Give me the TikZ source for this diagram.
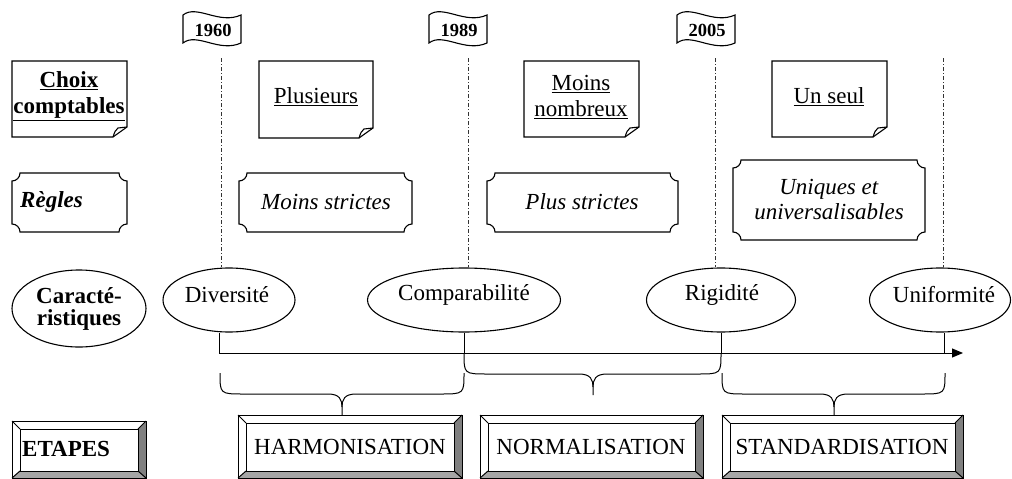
\documentclass[tikz,border=0pt]{standalone}
\usepackage{fontspec}
\setmainfont{Liberation Serif}
\usetikzlibrary{shapes.geometric,arrows.meta}

\tikzset{
  shp/.style={line width=1.1pt},
  thinline/.style={line width=1pt},
  dashdotline/.style={line width=0.8pt, black!80, dash pattern=on 4pt off 2pt on 1pt off 2pt},
  txt/.style={inner sep=0pt, align=center, font=\fontsize{23}{26}\selectfont},
  yeartxt/.style={inner sep=0pt, font=\fontsize{18.5}{20}\selectfont\bfseries},
  ell/.style={ellipse, draw, shp, inner sep=0pt},
}

% folded-corner note box: x1 y1 x2 y2
\newcommand\noteshape[4]{%
  \draw[shp] (#1,#2) -- (#3,#2) -- (#3,{#4-10}) -- ({#3-14},#4) -- (#1,#4) -- cycle;
  \draw[shp] ({#3-14},#4) .. controls ({#3-12},{#4-6}) .. ({#3-9},{#4-9}) -- (#3,{#4-10});
}
% plaque with concave corners: x1 y1 x2 y2
\newcommand\plaqueshape[4]{%
  \draw[shp] ({#1+8},#2) -- ({#3-8},#2)
    .. controls ({#3-8},{#2+4.4}) and ({#3-4.4},{#2+8}) .. (#3,{#2+8})
    -- (#3,{#4-8})
    .. controls ({#3-4.4},{#4-8}) and ({#3-8},{#4-4.4}) .. ({#3-8},#4)
    -- ({#1+8},#4)
    .. controls ({#1+8},{#4-4.4}) and ({#1+4.4},{#4-8}) .. (#1,{#4-8})
    -- (#1,{#2+8})
    .. controls ({#1+4.4},{#2+8}) and ({#1+8},{#2+4.4}) .. ({#1+8},#2) -- cycle;
}
% bevelled frame: x1 y1 x2 y2
\newcommand\bevelshape[4]{%
  \fill[black!50] (#3,#2) -- (#3,#4) -- ({#3-8},{#4-7}) -- ({#3-8},{#2+8}) -- cycle;
  \fill[black!35] (#1,#4) -- (#3,#4) -- ({#3-8},{#4-7}) -- ({#1+8},{#4-7}) -- cycle;
  \draw[thinline] (#1,#2) rectangle (#3,#4);
  \draw[thinline] ({#1+8},{#2+8}) rectangle ({#3-8},{#4-7});
  \draw[thinline] (#1,#2) -- ({#1+8},{#2+8});
  \draw[thinline] (#3,#2) -- ({#3-8},{#2+8});
  \draw[thinline] (#1,#4) -- ({#1+8},{#4-7});
  \draw[thinline] (#3,#4) -- ({#3-8},{#4-7});
}
% waving flag: x1 y1 x2 y2
\newcommand\flagshape[4]{%
  \draw[shp] (#1,{#2+5}) .. controls ({#1+14},{#2-6}) and ({#3-22},{#2+15}) .. (#3,{#2+5})
    -- (#3,{#4-5}) .. controls ({#3-22},{#4+5}) and ({#1+14},{#4-16}) .. (#1,{#4-5}) -- cycle;
}
% curly brace: xa xb ytop xmid h
\newcommand\bracepath[5]{%
  \draw[thinline] (#1,#3) .. controls (#1,{#3+#5}) .. ({#1+24},{#3+#5})
    -- ({#4-14},{#3+#5}) .. controls ({#4-2},{#3+#5}) and (#4,{#3+#5+6}) .. (#4,{#3+#5+13})
    -- (#4,{#3+2*#5});
  \draw[thinline] (#4,{#3+#5+13}) .. controls (#4,{#3+#5+6}) and ({#4+2},{#3+#5}) .. ({#4+14},{#3+#5})
    -- ({#2-24},{#3+#5}) .. controls (#2,{#3+#5}) .. (#2,#3);
}

\begin{document}
\begin{tikzpicture}[x=1pt,y=-1pt]
\useasboundingbox (0,0) rectangle (1012,479);

% ---- flags (years)
\flagshape{183}{10}{241}{48}
\node[yeartxt] (y1960) at (213,30) {1960};
\flagshape{429}{10}{487}{48}
\node[yeartxt] (y1989) at (459,30) {1989};
\flagshape{677}{10}{735}{48}
\node[yeartxt] (y2005) at (707,30) {2005};

% ---- row 1: choix comptables
\noteshape{12}{61}{127}{137}
\node[txt] (choix) at (69,96) {\textbf{\underline{Choix}}\\\textbf{\underline{comptables}}};
\noteshape{259}{61}{373}{138}
\node[txt] (plusieurs) at (316,97) {\underline{Plusieurs}};
\noteshape{524}{61}{639}{137}
\node[txt] (moinsnb) at (581,97) {\underline{Moins}\\\underline{nombreux}};
\noteshape{772}{61}{887}{137}
\node[txt] (unseul) at (829,97) {\underline{Un seul}};

% ---- row 2: regles
\plaqueshape{12}{173}{127}{232}
\node[txt, anchor=west] (regles) at (20,202) {\textbf{\textit{Règles}}};
\plaqueshape{239}{173}{412}{232}
\node[txt] (moinsstr) at (326,202) {\textit{Moins strictes}};
\plaqueshape{487}{173}{678}{232}
\node[txt] (plusstr) at (582,202) {\textit{Plus strictes}};
\plaqueshape{733}{160}{925}{240}
\node[txt, font=\fontsize{23}{25}\selectfont] (uniques) at (829,200) {\textit{Uniques et}\\\textit{universalisables}};

% ---- row 3: caracteristiques
\node[ell, minimum width=134pt, minimum height=77pt] (car) at (79,308.5) {};
\node[txt, font=\fontsize{23}{22}\selectfont] (cart) at (79,309) {\textbf{Caracté-}\\\textbf{ristiques}};
\node[ell, minimum width=132pt, minimum height=64pt] (div) at (229,300) {};
\node[txt] (divt) at (227,295) {Diversité};
\node[ell, minimum width=193pt, minimum height=64pt] (comp) at (464,300) {};
\node[txt] (compt) at (464,295) {Comparabilité};
\node[ell, minimum width=149pt, minimum height=64pt] (rig) at (721,300) {};
\node[txt] (rigt) at (722,295) {Rigidité};
\node[ell, minimum width=141pt, minimum height=64pt] (unif) at (940,300) {};
\node[txt] (unift) at (944,295) {Uniformité};

% ---- dash-dot year lines
\coordinate (d1) at (221,58);
\coordinate (d2) at (468,58);
\coordinate (d3) at (715,58);
\coordinate (d4) at (943,58);
\draw[dashdotline] (d1) -- (d1 |- div.north);
\draw[dashdotline] (d2) -- (d2 |- comp.north);
\draw[dashdotline] (d3) -- (d3 |- rig.north);
\draw[dashdotline] (d4) -- (d4 |- unif.north);

% ---- time axis
\coordinate (t0) at (219,353);
\coordinate (tend) at (963,353);
\coordinate (tu) at (944,353);
\draw[thinline, -{Triangle[length=11pt,width=9pt]}] (div.south -| t0) -- (t0) -- (tend);
\draw[thinline] (comp.south) -- (comp.south |- t0);
\draw[thinline] (rig.south) -- (rig.south |- t0);
\draw[thinline] (unif.south -| tu) -- (tu);

% ---- braces
\bracepath{220}{464}{373}{342}{21}
\bracepath{464}{721}{353}{593}{21}
\bracepath{722}{945}{373}{834}{21}

% ---- row 4: etapes
\bevelshape{12}{421}{146}{478}
\node[txt, anchor=west] (etapes) at (22,449) {\textbf{ETAPES}};
\bevelshape{238}{415}{462}{478}
\node[txt] (harm) at (350,447) {HARMONISATION};
\bevelshape{480}{415}{703}{478}
\node[txt] (norm) at (591,447) {NORMALISATION};
\bevelshape{722}{415}{963}{478}
\node[txt] (stand) at (842,447) {STANDARDISATION};
\end{tikzpicture}
\end{document}
